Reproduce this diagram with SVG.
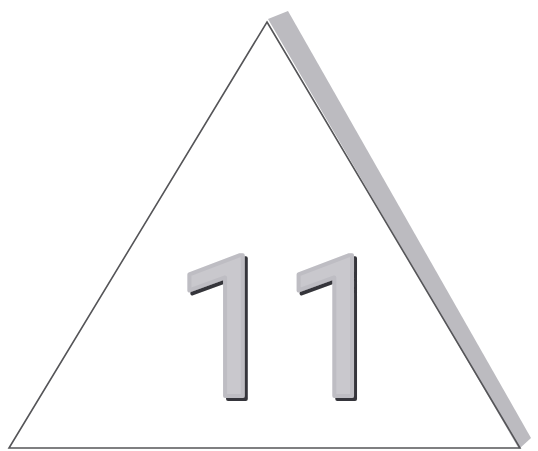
<svg xmlns="http://www.w3.org/2000/svg" width="538" height="451" viewBox="0 0 538 451">
  <defs>
    <filter id="drop" x="-10%" y="-10%" width="130%" height="130%">
      <feOffset in="SourceAlpha" dx="3" dy="3" result="off"/>
      <feFlood flood-color="#36363a" result="col"/>
      <feComposite in="col" in2="off" operator="in" result="shadow"/>
      <feMerge>
        <feMergeNode in="shadow"/>
        <feMergeNode in="SourceGraphic"/>
      </feMerge>
    </filter>
  </defs>
  <style>
    .num { font-family: Roboto, "Liberation Sans", sans-serif; font-weight: 400; font-size: 196px; letter-spacing: -1px; fill: #c9c8cd; stroke: #bebdc3; stroke-width: 4; stroke-linejoin: round; }
  </style>
  <rect width="538" height="451" fill="#ffffff"/>
  <g id="band">
    <polygon points="268,19 288,11 531,438 519,449" fill="#bcbbc0"/>
  </g>
  <g id="triangle">
    <polygon points="267,22 520,448 9,448" fill="none" stroke="#555558" stroke-width="1.6" stroke-linejoin="miter"/>
  </g>
  <g id="label">
    <text class="num" x="173" y="396" filter="url(#drop)">11</text>
  </g>
</svg>
